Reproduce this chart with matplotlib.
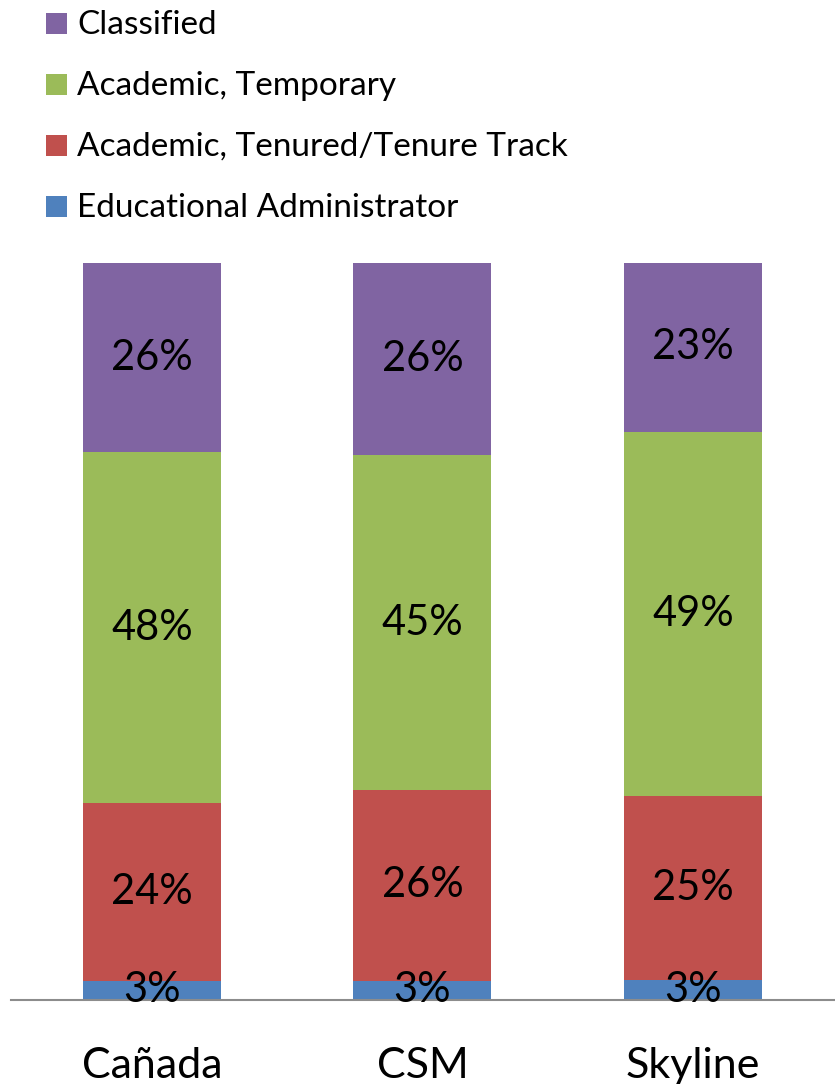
import matplotlib
matplotlib.use("Agg")
import matplotlib.pyplot as plt
from matplotlib.patches import Rectangle

plt.rcParams['font.family'] = ['Lato', 'DejaVu Sans']

categories = ["Cañada", "CSM", "Skyline"]
series_names = ["Educational Administrator", "Academic, Tenured/Tenure Track",
                "Academic, Temporary", "Classified"]
edu_admin = [2.6, 2.6, 2.7]
tenured = [24.1, 25.9, 25.0]
temporary = [47.6, 45.4, 49.4]
classified = [25.7, 26.1, 22.9]
colors = ["#4F81BD", "#C0504D", "#9BBB59", "#8064A2"]

W, H = 835, 1084
fig = plt.figure(figsize=(W / 100, H / 100), dpi=100)
ax = fig.add_axes([11 / W, (H - 1000) / H, 1 - 11 / W, 737 / H])

series = [edu_admin, tenured, temporary, classified]
x = list(range(len(categories)))
bottoms = [0.0] * len(categories)
for vals, col in zip(series, colors):
    ax.bar(x, vals, width=0.51, bottom=bottoms, color=col, edgecolor='none', zorder=2)
    for xi, v, b in zip(x, vals, bottoms):
        ax.text(xi, b + v / 2, f"{round(v):d}%", ha='center', va='center',
                fontsize=30, color='black', zorder=5)
    bottoms = [b + v for b, v in zip(bottoms, vals)]

ax.set_xlim(-0.521, 2.525)
ax.set_ylim(0, 100)
for s in ['top', 'right', 'left']:
    ax.spines[s].set_visible(False)
ax.spines['bottom'].set_color('#8C8C8C')
ax.spines['bottom'].set_linewidth(1.5)
ax.spines['bottom'].set_zorder(4)
ax.set_yticks([])
ax.set_xticks(x)
ax.set_xticklabels(categories, fontsize=31)
ax.tick_params(axis='x', length=0, pad=34)

# legend (top-left, reversed order)
leg_bottoms = [34, 95, 156, 217]
for yb, name, col in zip(leg_bottoms, series_names[::-1], colors[::-1]):
    fig.patches.append(Rectangle((46 / W, (H - yb) / H), 21 / W, 21 / H,
                                 transform=fig.transFigure, facecolor=col,
                                 edgecolor='none'))
    fig.text(77 / W, (H - yb) / H, name, fontsize=24, va='baseline', ha='left')

fig.savefig("out.png", dpi=100)
